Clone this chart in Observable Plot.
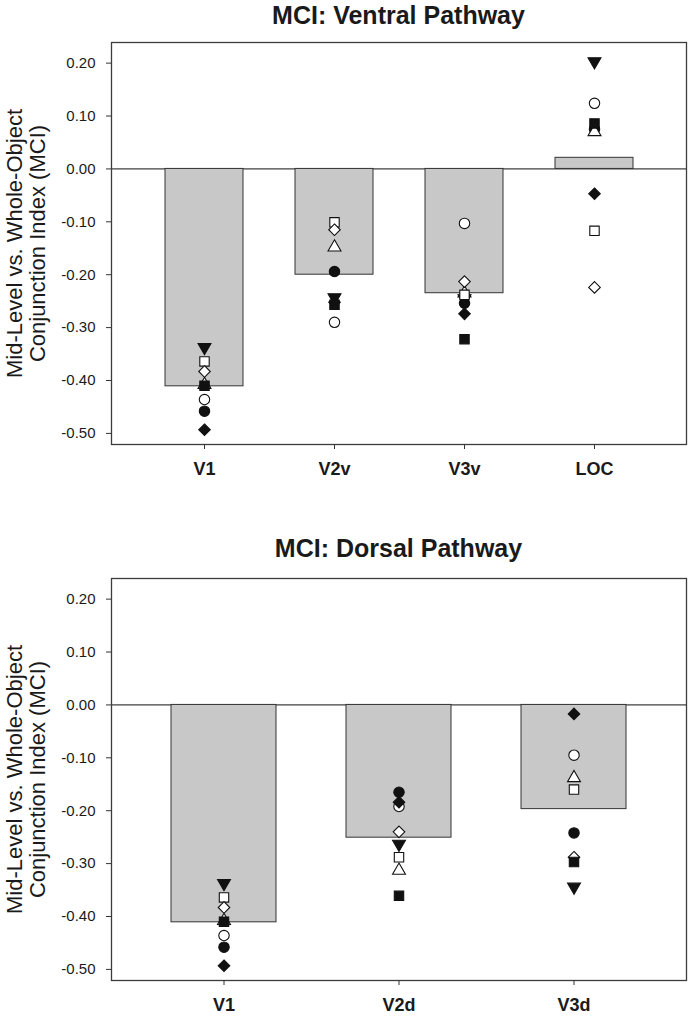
<!DOCTYPE html>
<html>
<head>
<meta charset="utf-8">
<script src="https://cdn.jsdelivr.net/npm/d3@7"></script>
<script src="https://cdn.jsdelivr.net/npm/@observablehq/plot@0.6"></script>
<style>
  html, body { margin: 0; padding: 0; background: #fff; }
  body { width: 690px; height: 1017px; font-family: "Liberation Sans", Arial, sans-serif; }
  .title { margin-left: 111px; width: 575px; text-align: center; font-weight: bold; font-size: 25px; color: #1a1a1a; }
  #t1 { height: 30px; line-height: 30px; }
  #t2 { height: 36px; line-height: 36px; }
  svg { display: block; }
</style>
</head>
<body>
<div class="title" id="t1">MCI: Ventral Pathway</div>
<div id="c1"></div>
<div class="title" id="t2">MCI: Dorsal Pathway</div>
<div id="c2"></div>
<script>
// ---------- data ----------
const yTicks = [0.2, 0.1, 0, -0.1, -0.2, -0.3, -0.4, -0.5];
const yLabel = "Mid-Level vs. Whole-Object\nConjunction Index (MCI)";

// Ventral panel
const ventralRegions = ["V1", "V2v", "V3v", "LOC"];
const ventralMeans   = [-0.411, -0.200, -0.235, 0.021];
// subject values per region, subject order:
// S1 filled down-triangle, S2 open square, S3 open diamond, S4 filled square,
// S5 open circle, S6 filled circle, S7 filled diamond, S8 open triangle
const ventralV1  = [-0.337, -0.364, -0.383, -0.410, -0.436, -0.458, -0.493, -0.408];
const ventralV2v = [-0.243, -0.101, -0.115, -0.257, -0.290, -0.194, -0.252, -0.148];
const ventralV3v = [-0.245, -0.238, -0.213, -0.322, -0.103, -0.254, -0.274, -0.235];
const ventralLOC = [ 0.203, -0.117, -0.224,  0.086,  0.124,  0.075, -0.047,  0.070];

// Dorsal panel
const dorsalRegions = ["V1", "V2d", "V3d"];
const dorsalMeans   = [-0.411, -0.251, -0.197];
const dorsalV1  = [-0.337, -0.364, -0.383, -0.410, -0.436, -0.458, -0.493, -0.408];
const dorsalV2d = [-0.263, -0.288, -0.240, -0.361, -0.192, -0.165, -0.184, -0.313];
const dorsalV3d = [-0.344, -0.160, -0.288, -0.297, -0.095, -0.242, -0.017, -0.138];

const subjects = ["S1", "S2", "S3", "S4", "S5", "S6", "S7", "S8"];
const subjectSymbols = ["triangle", "square", "diamond2", "square", "circle", "circle", "diamond2", "triangle"];
const subjectFilled  = [true, false, false, true, false, true, true, false];
const subjectRotate  = [180, 0, 0, 0, 0, 0, 0, 0];
// draw order (later drawn on top)
const drawOrder = [5, 7, 0, 1, 2, 4, 6, 3];

function buildChart(regions, means, valueLists, opts) {
  const barData = regions.map((r, i) => ({region: r, mci: means[i]}));
  const dotMarks = drawOrder.map(s => {
    const pts = regions.map((r, i) => ({region: r, mci: valueLists[i][s]}));
    const filled = subjectFilled[s];
    const sym = subjectSymbols[s];
    return Plot.dot(pts, {
      x: "region", y: "mci",
      symbol: () => sym,
      r: sym === "triangle" ? 4.8 : (sym === "square" ? 5.3 : 5.2),
      rotate: subjectRotate[s],
      fill: filled ? "#111" : "#fff",
      stroke: "#111",
      strokeWidth: 1.1
    });
  });
  return Plot.plot({
    width: 690,
    height: opts.height,
    marginTop: opts.marginTop,
    marginBottom: opts.marginBottom,
    marginLeft: 111,
    marginRight: 4,
    style: {fontFamily: "'Liberation Sans', Arial, sans-serif", color: "#1a1a1a", background: "#fff", overflow: "visible"},
    x: {domain: regions, paddingInner: 0.4, paddingOuter: opts.paddingOuter},
    y: {domain: [-0.521, 0.239]},
    symbol: {type: "identity"},
    marks: [
      Plot.ruleY([0], {stroke: "#111", strokeWidth: 1}),
      Plot.barY(barData, {x: "region", y: "mci", fill: "#c8c8c8", stroke: "#333", strokeWidth: 1}),
      ...dotMarks,
      Plot.frame({stroke: "#3c3c3c", strokeWidth: 1.3}),
      Plot.axisY({ticks: yTicks, tickFormat: d => d.toFixed(2), tickSize: 5, tickPadding: 11, fontSize: 15, label: null, stroke: "#333"}),
      Plot.axisX({tickSize: 5, tickPadding: 13, fontSize: 18, fontWeight: "bold", label: null, stroke: "#333"}),
      Plot.text([yLabel], {frameAnchor: "left", rotate: -90, dx: -85, fontSize: 22, lineHeight: 1.05, textAnchor: "middle", lineAnchor: "middle", fill: "#1a1a1a"})
    ]
  });
}

document.getElementById("c1").append(buildChart(
  ventralRegions, ventralMeans, [ventralV1, ventralV2v, ventralV3v, ventralLOC],
  {height: 500, marginTop: 12, marginBottom: 86, paddingOuter: 0.4}
));
document.getElementById("c2").append(buildChart(
  dorsalRegions, dorsalMeans, [dorsalV1, dorsalV2d, dorsalV3d],
  {height: 451, marginTop: 12, marginBottom: 37, paddingOuter: 0.34}
));
</script>
</body>
</html>
